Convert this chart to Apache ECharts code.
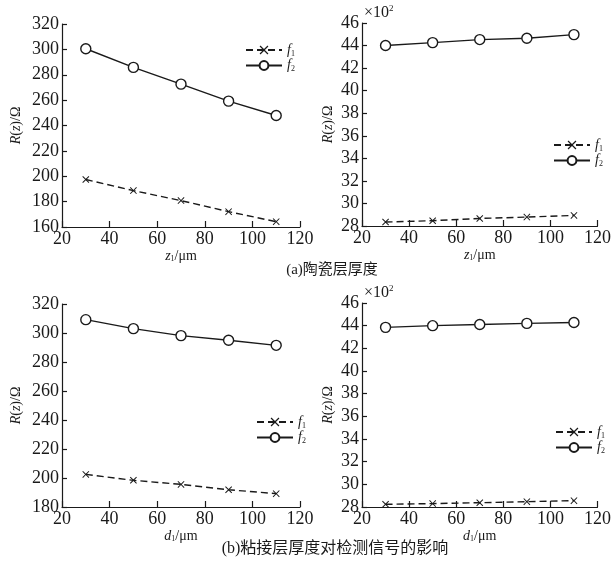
<!DOCTYPE html>
<html><head><meta charset="utf-8">
<script src="https://cdn.jsdelivr.net/npm/echarts@6/dist/echarts.min.js"></script>
<style>html,body{margin:0;padding:0;background:#fff}#c{width:614px;height:565px}</style>
</head><body><div id="c"></div>
<script>
// ---- data ----
const xVals = [30, 50, 70, 90, 110];
const aLeftF1 = [197.4, 188.7, 180.8, 172.1, 164.2];
const aLeftF2 = [300.5, 285.8, 272.6, 259.2, 247.9];
const aRightF1 = [28.35, 28.47, 28.67, 28.79, 28.94];   // ×10^2 Ω
const aRightF2 = [44.0, 44.26, 44.53, 44.65, 44.97];    // ×10^2 Ω
const bLeftF1 = [202.5, 198.4, 195.6, 191.9, 189.2];
const bLeftF2 = [309.2, 303.0, 298.2, 295.0, 291.5];
const bRightF1 = [28.24, 28.30, 28.38, 28.47, 28.56];   // ×10^2 Ω
const bRightF2 = [43.85, 44.0, 44.1, 44.2, 44.28];      // ×10^2 Ω
const seriesNames = ['f1', 'f2'];
const captionA = '(a)陶瓷层厚度';
const captionB = '(b)粘接层厚度对检测信号的影响';

const INK = '#1a1a1a';
const SERIF = '"Liberation Serif","DejaVu Serif",serif';
const CJK = '"Liberation Serif","Noto Sans CJK SC",serif';
const crossPath = 'path://M0,1L1,0L5,4L9,0L10,1L6,5L10,9L9,10L5,6L1,10L0,9L4,5Z';

const grids = [
  {left: 62, top: 24, width: 238, height: 203},
  {left: 362, top: 23, width: 238, height: 203},
  {left: 62, top: 304, width: 238, height: 203},
  {left: 362, top: 303, width: 238, height: 204}
];
const yRanges = [[160, 320, 20], [28, 46, 2], [180, 320, 20], [28, 46, 2]];
const xLetters = ['z', 'z', 'd', 'd'];
const panelData = [[aLeftF1, aLeftF2], [aRightF1, aRightF2], [bLeftF1, bLeftF2], [bRightF1, bRightF2]];

const richBase = {
  i: {fontFamily: SERIF, fontStyle: 'italic', fontSize: 14, color: INK},
  n: {fontFamily: SERIF, fontStyle: 'normal', fontSize: 14, color: INK},
  s: {fontFamily: SERIF, fontStyle: 'normal', fontSize: 8, color: INK, padding: [7, 0, 0, 0]}
};

const xAxes = grids.map((g, k) => ({
  type: 'value', gridIndex: k, min: 20, max: 120, interval: 20,
  axisLine: {lineStyle: {color: INK, width: 1.2}},
  axisTick: {inside: true, length: 6, lineStyle: {color: INK, width: 1.2}},
  axisLabel: {color: INK, fontFamily: SERIF, fontSize: 18, margin: 3},
  splitLine: {show: false},
  name: '{i|' + xLetters[k] + '}{s|1}{n|/μm}',
  nameLocation: 'middle', nameGap: 21,
  nameTextStyle: {fontFamily: SERIF, fontStyle: 'italic', fontSize: 14, color: INK, rich: richBase}
}));

const yAxes = grids.map((g, k) => {
  const [mn, mx, iv] = yRanges[k];
  return {
    type: 'value', gridIndex: k, min: mn, max: mx, interval: iv,
    axisLine: {show: true, lineStyle: {color: INK, width: 1.2}},
    axisTick: {show: true, inside: true, length: 5, lineStyle: {color: INK, width: 1.2}},
    axisLabel: {color: INK, fontFamily: SERIF, fontSize: 18, margin: 3},
    splitLine: {show: false},
    name: '{i|R}{n|(}{i|z}{n|)/Ω}',
    nameLocation: 'middle',
    nameGap: (k % 2 === 1) ? 27 : 39,
    nameRotate: 90,
    nameTextStyle: {fontFamily: SERIF, fontStyle: 'italic', fontSize: 14, color: INK, rich: richBase}
  };
});

const series = [];
panelData.forEach((pair, k) => {
  pair.forEach((vals, j) => {
    series.push({
      name: seriesNames[j], type: 'line', xAxisIndex: k, yAxisIndex: k,
      data: xVals.map((x, i) => [x, vals[i]]),
      symbol: j === 0 ? crossPath : 'circle',
      symbolSize: j === 0 ? 7 : 10,
      showSymbol: true,
      lineStyle: {color: INK, width: 1.4, type: j === 0 ? [7, 4] : 'solid'},
      itemStyle: j === 0 ? {color: INK} : {color: '#fff', borderColor: INK, borderWidth: 1.4},
      animation: false, silent: true
    });
  });
});

const legendPos = [
  {left: 240, top: 38},
  {left: 548, top: 133},
  {left: 251, top: 410},
  {left: 550, top: 420}
];
const legends = legendPos.map(p => ({
  left: p.left, top: p.top, orient: 'vertical', itemGap: 1,
  itemWidth: 36, itemHeight: 11, data: seriesNames,
  formatter: name => '{i|f}{s|' + name.slice(1) + '}',
  textStyle: {rich: {
    i: {fontFamily: SERIF, fontStyle: 'italic', fontSize: 14, color: INK},
    s: {fontFamily: SERIF, fontSize: 8, color: INK, padding: [7, 0, 0, 0]}
  }},
  selectedMode: false
}));

const multRich = {
  a: {fontFamily: SERIF, fontSize: 16, fill: INK},
  b: {fontFamily: SERIF, fontSize: 9, fill: INK, padding: [0, 0, 8, 0]}
};

const chart = echarts.init(document.getElementById('c'), null, {renderer: 'canvas'});
chart.setOption({
  backgroundColor: '#fff',
  animation: false,
  grid: grids,
  xAxis: xAxes,
  yAxis: yAxes,
  legend: legends,
  series: series,
  graphic: [
    {type: 'text', x: 332, y: 263, style: {text: captionA, font: '15px ' + CJK, fill: INK, align: 'center'}},
    {type: 'text', x: 335, y: 541, style: {text: captionB, font: '16px ' + CJK, fill: INK, align: 'center'}},
    {type: 'text', left: 364, top: 4, style: {rich: multRich, text: '{a|×10}{b|2}'}},
    {type: 'text', left: 364, top: 284, style: {rich: multRich, text: '{a|×10}{b|2}'}}
  ]
});
</script></body></html>
